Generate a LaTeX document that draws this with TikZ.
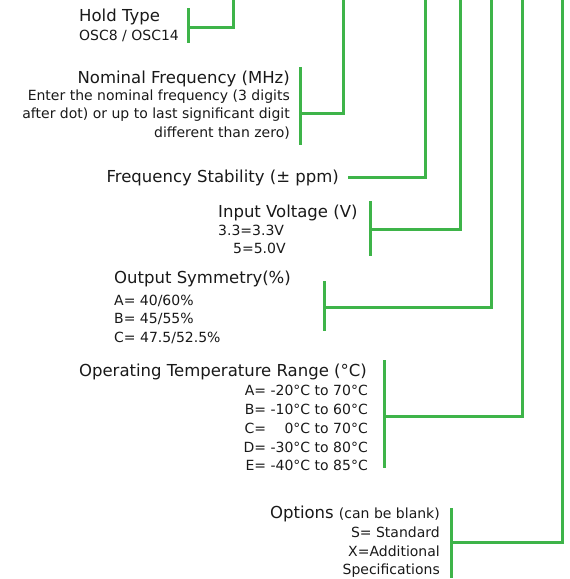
\documentclass[tikz,border=0pt]{standalone}
\usepackage{fontspec}
\setmainfont{DejaVu Sans}
\definecolor{lgreen}{RGB}{62,180,73}
\definecolor{ink}{RGB}{25,25,25}
\begin{document}
\begin{tikzpicture}[x=1pt,y=-1pt,
  ttl/.style={inner sep=0pt,text=ink,font=\fontsize{16.5}{20}\selectfont},
  sub/.style={inner sep=0pt,text=ink,font=\fontsize{14}{17}\selectfont},
  wire/.style={draw=lgreen,line width=3pt}]
\useasboundingbox (0,0) rectangle (570,579);
% Hold Type
\node[ttl,anchor=base west] (ht1) at (79,21) {Hold Type};
\node[sub,anchor=base west] (ht2) at (79,40) {OSC8 / OSC14};
\coordinate (htA) at (188,8); \coordinate (htB) at (188,43); \coordinate (htM) at (188,27);
\coordinate (htT) at (233,-3);
\draw[wire] (htA) -- (htB);
\draw[wire] (htM) -| (htT);
% Nominal Frequency
\node[ttl,anchor=base east] (nf1) at (290,83) {Nominal Frequency (MHz)};
\node[sub,anchor=base east] (nf2) at (290,100) {Enter the nominal frequency (3 digits};
\node[sub,anchor=base east] (nf3) at (290,118) {after dot) or up to last significant digit};
\node[sub,anchor=base east] (nf4) at (290,137) {different than zero)};
\coordinate (nfA) at (300,67); \coordinate (nfB) at (300,145); \coordinate (nfM) at (300,113);
\coordinate (nfT) at (343,-3);
\draw[wire] (nfA) -- (nfB);
\draw[wire] (nfM) -| (nfT);
% Frequency Stability
\node[ttl,anchor=base east] (fs1) at (339,182) {Frequency Stability (± ppm)};
\coordinate (fsL) at (348,177); \coordinate (fsT) at (425,-3);
\draw[wire] (fsL) -| (fsT);
% Input Voltage
\node[ttl,anchor=base west] (iv1) at (218,217) {Input Voltage (V)};
\node[sub,anchor=base west] (iv2) at (218,235) {3.3=3.3V};
\node[sub,anchor=base west] (iv3) at (233,253) {5=5.0V};
\coordinate (ivA) at (370,201); \coordinate (ivB) at (370,256); \coordinate (ivM) at (370,229);
\coordinate (ivT) at (460,-3);
\draw[wire] (ivA) -- (ivB);
\draw[wire] (ivM) -| (ivT);
% Output Symmetry
\node[ttl,anchor=base west] (os1) at (114,283) {Output Symmetry(\%)};
\node[sub,anchor=base west] (os2) at (114,305) {A= 40/60\%};
\node[sub,anchor=base west] (os3) at (114,323) {B= 45/55\%};
\node[sub,anchor=base west] (os4) at (114,342) {C= 47.5/52.5\%};
\coordinate (osA) at (324,281); \coordinate (osB) at (324,331); \coordinate (osM) at (324,307);
\coordinate (osT) at (491,-3);
\draw[wire] (osA) -- (osB);
\draw[wire] (osM) -| (osT);
% Operating Temperature
\node[ttl,anchor=base east] (ot1) at (367,376) {Operating Temperature Range (°C)};
\node[sub,anchor=base east] (ot2) at (368,395) {A= -20°C to 70°C};
\node[sub,anchor=base east] (ot3) at (368,414) {B= -10°C to 60°C};
\node[sub,anchor=base east] (ot4) at (368,433) {C= \phantom{-2}0°C to 70°C};
\node[sub,anchor=base east] (ot5) at (368,452) {D= -30°C to 80°C};
\node[sub,anchor=base east] (ot6) at (368,470) {E= -40°C to 85°C};
\coordinate (otA) at (384,360); \coordinate (otB) at (384,468); \coordinate (otM) at (384,416);
\coordinate (otT) at (522,-3);
\draw[wire] (otA) -- (otB);
\draw[wire] (otM) -| (otT);
% Options
\node[anchor=base east,inner sep=0pt,text=ink] (op1) at (440,518) {\fontsize{16.5}{20}\selectfont Options \fontsize{14}{17}\selectfont(can be blank)};
\node[sub,anchor=base east] (op2) at (440,537) {S= Standard};
\node[sub,anchor=base east] (op3) at (440,556) {X=Additional};
\node[sub,anchor=base east] (op4) at (440,574) {Specifications};
\coordinate (opA) at (451,508); \coordinate (opB) at (451,578); \coordinate (opM) at (451,542);
\coordinate (opT) at (562,-3);
\draw[wire] (opA) -- (opB);
\draw[wire] (opM) -| (opT);
\end{tikzpicture}
\end{document}
